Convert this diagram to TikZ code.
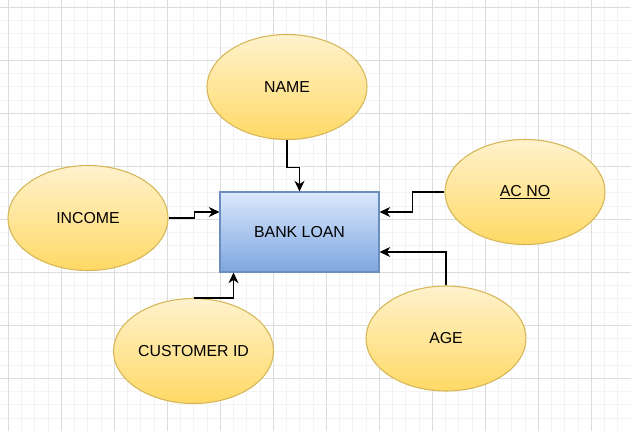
\documentclass[tikz,border=0pt]{standalone}
\usepackage{fontspec}
\setmainfont{Liberation Sans}
\usetikzlibrary{shapes.geometric,arrows.meta,calc}
\definecolor{minorgrid}{HTML}{F3F3F3}
\definecolor{majorgrid}{HTML}{DCDCDC}
\definecolor{ytop}{HTML}{FFF2CC}
\definecolor{ybot}{HTML}{FFD966}
\definecolor{ystroke}{HTML}{D6B656}
\definecolor{btop}{HTML}{DAE8FC}
\definecolor{bbot}{HTML}{7EA6E0}
\definecolor{bstroke}{HTML}{6C8EBF}
\tikzset{
  attr/.style={ellipse, draw=ystroke, line width=0.8pt, top color=ytop, bottom color=ybot,
    minimum width=120pt, minimum height=78.75pt, inner sep=0pt,
    font=\fontsize{11.9}{14}\selectfont},
  entity/.style={rectangle, draw=bstroke, line width=0.8pt, top color=btop, bottom color=bbot,
    minimum width=119.25pt, minimum height=60pt, inner sep=0pt,
    font=\fontsize{11.9}{14}\selectfont},
  conn/.style={line width=0.9pt, -{Stealth[length=8pt,width=7.5pt,inset=2.5pt]}},
  mingrid/.style={draw=minorgrid, line width=0.75pt},
  majgrid/.style={draw=majorgrid, line width=0.75pt}
}
\begin{document}
\begin{tikzpicture}[x=0.75pt,y=-0.75pt]
\useasboundingbox (0,0) rectangle (631,431);
\fill[white] (0,0) rectangle (631,431);
\begin{scope}
\clip (0,0) rectangle (631,431);
\foreach \i in {0,...,49} {
  \draw[mingrid] ({-4.95+13.25*\i},0) -- ({-4.95+13.25*\i},431);
}
\foreach \i in {0,...,34} {
  \draw[mingrid] (0,{-5.95+13.25*\i}) -- (631,{-5.95+13.25*\i});
}
\foreach \i in {0,...,11} {
  \draw[majgrid] ({8.3+53*\i},0) -- ({8.3+53*\i},431);
}
\foreach \i in {0,...,8} {
  \draw[majgrid] (0,{7.3+53*\i}) -- (631,{7.3+53*\i});
}
\end{scope}

\node[entity] (bank) at (299.5,232) {BANK LOAN};
\node[attr] (name) at (287,87) {NAME};
\node[attr] (income) at (88,218) {INCOME};
\node[attr] (acno) at (525,192) {\underline{AC NO}};
\node[attr] (age) at (446,338.5) {AGE};
\node[attr] (cust) at (193.5,351) {CUSTOMER ID};

\coordinate (bankNW) at ($(bank.west)+(0,-20)$);
\coordinate (bankNE) at ($(bank.east)+(0,-20)$);
\coordinate (bankSE) at ($(bank.east)+(0,20)$);
\coordinate (bankSW) at ($(bank.south)+(-66,0)$);

\draw[conn] (name.south) -- ++(0,27.7) -| (bank.north);
\draw[conn] (income.east) -- ++(26,0) |- (bankNW);
\draw[conn] (acno.west) -- ++(-32.3,0) |- (bankNE);
\draw[conn] (age.north) |- (bankSE);
\draw[conn] (cust.north) -| (bankSW);
\end{tikzpicture}
\end{document}
